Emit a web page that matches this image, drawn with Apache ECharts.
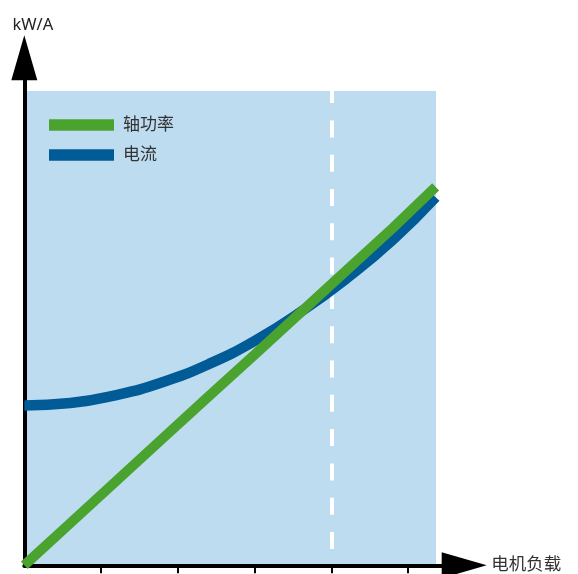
<!DOCTYPE html>
<html>
<head>
<meta charset="utf-8">
<script src="https://cdn.jsdelivr.net/npm/echarts@6/dist/echarts.min.js"></script>
<style>
html,body{margin:0;padding:0;background:#fff;}
#chart{width:578px;height:574px;}
</style>
</head>
<body>
<div id="chart"></div>
<script>
// ---- data ----
var seriesNames = ['轴功率', '电流'];
var xAxisName = '电机负载';
var yAxisName = 'kW/A';
var loadX = [0, 15, 30, 45, 60, 75, 90, 105, 120, 134];
var shaftPower = [0, 8.9, 17.8, 26.7, 35.6, 44.4, 53.3, 62.2, 71.1, 79.8];
var current = [33.7, 34.2, 35.9, 38.6, 42.4, 47.3, 53.4, 60.5, 68.6, 77.6];
var xTicks = [25, 50, 75, 100, 125];
var ratedLoad = 100;      // dashed marker
var regionEndX = 134.1;   // shaded region extent
var regionTopY = 100;
var xMax = 143.3, yMax = 107;

function pairs(xs, ys) { return xs.map(function (x, i) { return [x, ys[i]]; }); }

var font = '"Noto Sans", "Noto Sans CJK SC", sans-serif';
var chart = echarts.init(document.getElementById('chart'), null, { renderer: 'canvas' });
chart.setOption({
  animation: false,
  backgroundColor: '#ffffff',
  grid: { left: 24.3, right: 113.8, top: 57.8, bottom: 8.7, containLabel: false, outerBoundsMode: 'none' },
  legend: {
    orient: 'vertical', left: 49, top: 115, padding: 0,
    itemWidth: 65, itemHeight: 11.3, itemGap: 10,
    icon: 'rect',
    data: [seriesNames[0], seriesNames[1]],
    textStyle: { fontSize: 17, lineHeight: 20, color: '#333333', fontFamily: font, padding: [0, 0, 0, 4] }
  },
  xAxis: {
    type: 'value', min: 0, max: xMax, interval: 25, z: 3,
    name: xAxisName, nameLocation: 'end', nameGap: 27,
    nameTextStyle: { fontSize: 17.5, color: '#333333', fontFamily: font },
    axisLine: { show: true, onZero: false, lineStyle: { color: '#000', width: 4 },
      symbol: ['none', 'triangle'], symbolSize: [26, 45] },
    axisTick: { show: true, inside: false, length: 8, customValues: xTicks, lineStyle: { color: '#000', width: 2 } },
    axisLabel: { show: false },
    splitLine: { show: false }
  },
  yAxis: {
    type: 'value', min: 0, max: yMax, z: 3,
    name: yAxisName, nameLocation: 'end', nameGap: 24,
    nameTextStyle: { fontSize: 16.5, color: '#222222', fontFamily: font, padding: [0, 0, 0, 17] },
    axisLine: { show: true, onZero: false, lineStyle: { color: '#000', width: 4 },
      symbol: ['none', 'triangle'], symbolSize: [26, 45] },
    axisTick: { show: false },
    axisLabel: { show: false },
    splitLine: { show: false }
  },
  series: [
    {
      name: seriesNames[1], type: 'line', smooth: true, showSymbol: false, symbol: 'none',
      data: pairs(loadX, current),
      lineStyle: { color: '#005B96', width: 10.5, cap: 'butt' },
      itemStyle: { color: '#005B96' },
      markArea: {
        silent: true, z: 1,
        itemStyle: { color: '#BDDCF0', borderWidth: 0 },
        data: [[{ coord: [0, 0] }, { coord: [regionEndX, regionTopY] }]]
      },
      markLine: {
        silent: true, symbol: ['none', 'none'], z: 1.5,
        label: { show: false },
        lineStyle: { color: '#ffffff', width: 4, type: [17, 17.3] },
        data: [[{ coord: [ratedLoad, 3.44] }, { coord: [ratedLoad, yMax] }]]
      }
    },
    {
      name: seriesNames[0], type: 'line', showSymbol: false, symbol: 'none',
      data: pairs(loadX, shaftPower),
      lineStyle: { color: '#4BA32F', width: 10, cap: 'butt' },
      itemStyle: { color: '#4BA32F' }
    }
  ]
});
</script>
</body>
</html>
